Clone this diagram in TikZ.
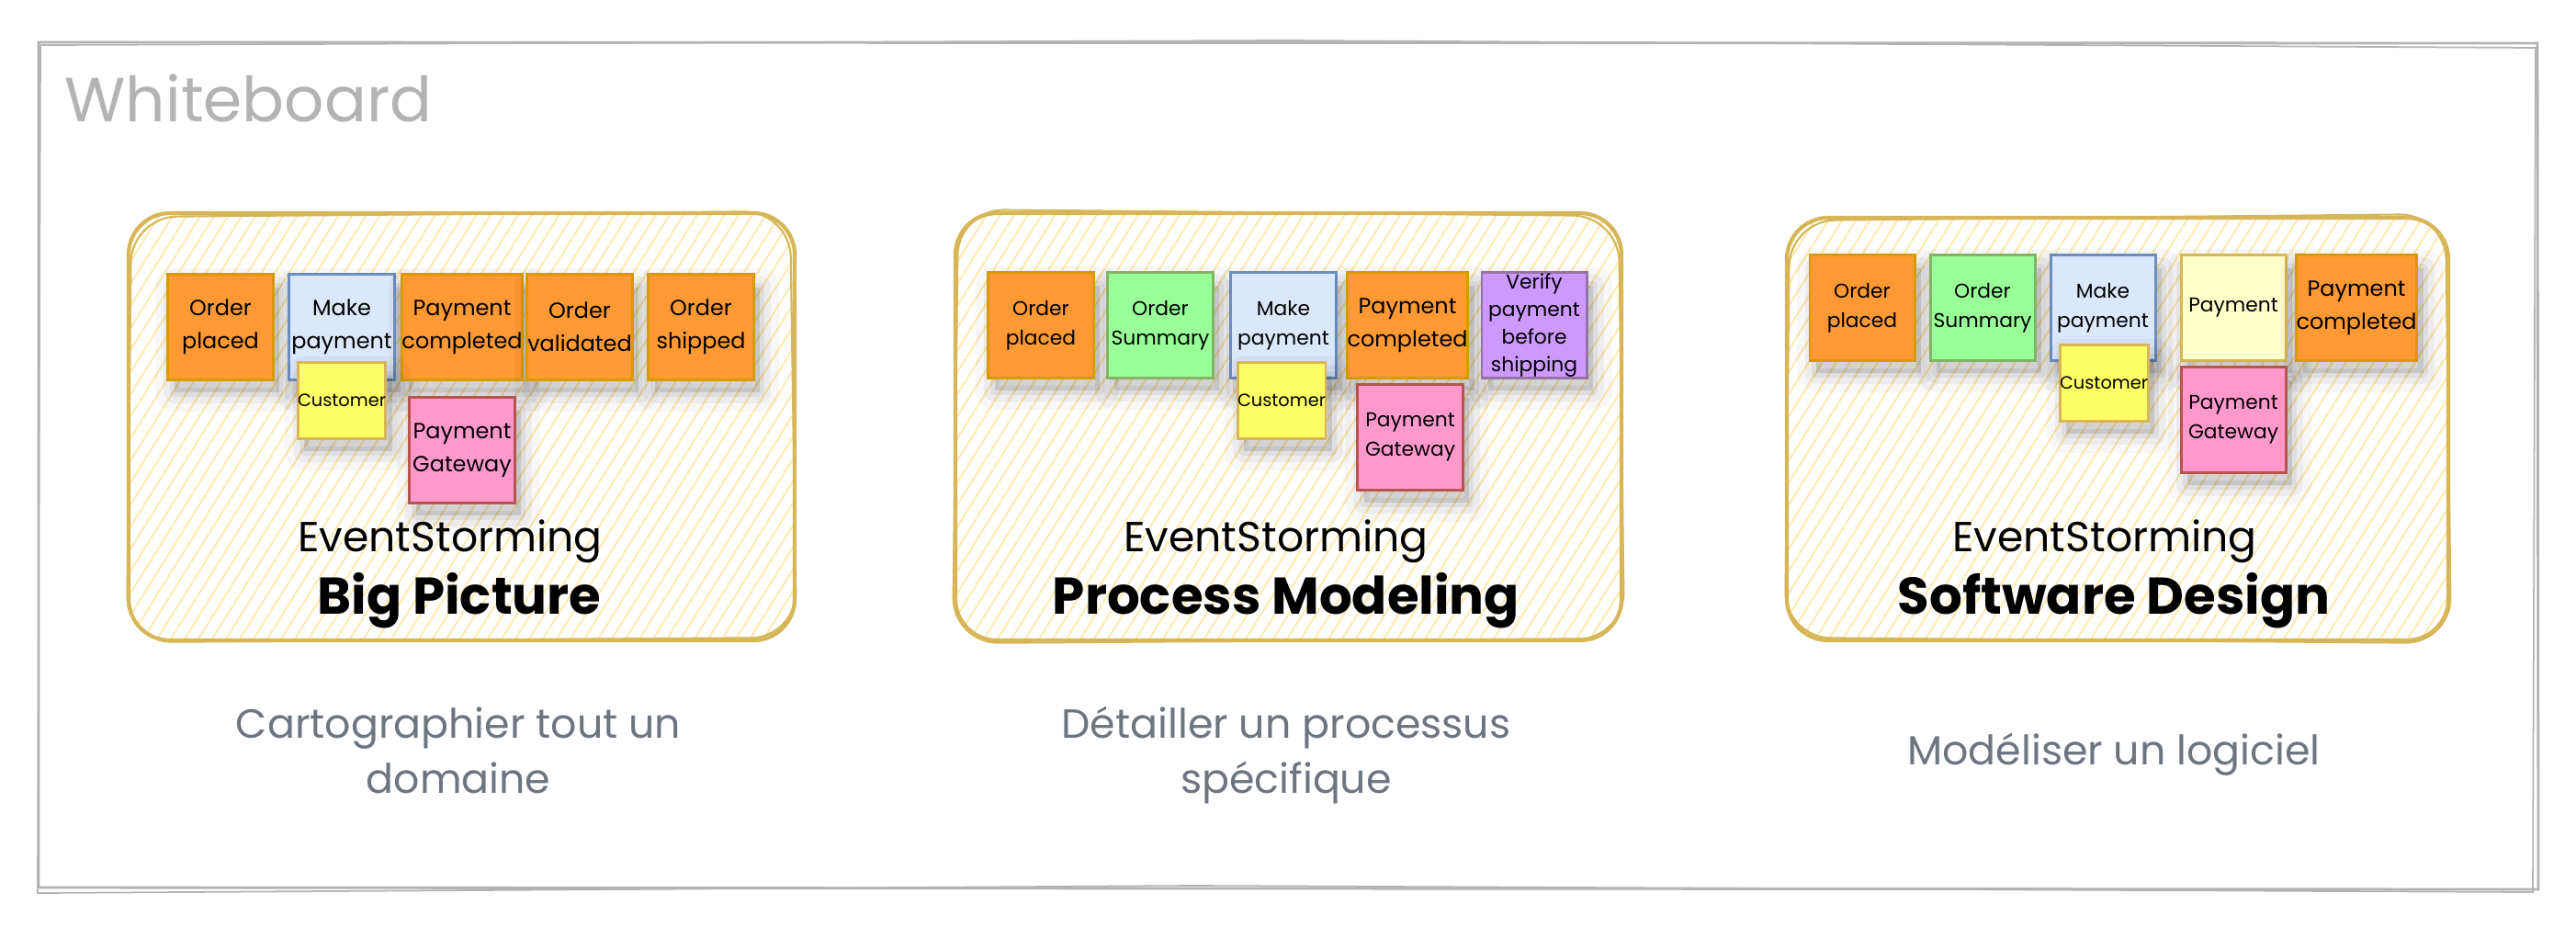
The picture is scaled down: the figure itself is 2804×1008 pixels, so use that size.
\documentclass[tikz,border=0pt]{standalone}
\usepackage{fontspec}
\setmainfont{Poppins}
\definecolor{evfill}{HTML}{FF9933}
\definecolor{evdraw}{HTML}{D79B00}
\definecolor{cmdfill}{HTML}{DAE8FC}
\definecolor{cmddraw}{HTML}{6C8EBF}
\definecolor{actfill}{HTML}{FFFF66}
\definecolor{actdraw}{HTML}{D6B656}
\definecolor{extfill}{HTML}{FF99CC}
\definecolor{extdraw}{HTML}{B85450}
\definecolor{rmfill}{HTML}{99FF99}
\definecolor{rmdraw}{HTML}{82B366}
\definecolor{polfill}{HTML}{CC99FF}
\definecolor{poldraw}{HTML}{9673A6}
\definecolor{aggfill}{HTML}{FFFFCC}
\definecolor{aggdraw}{HTML}{D6B656}
\definecolor{paneldraw}{HTML}{D6B656}
\definecolor{hatchc}{HTML}{FFEAB0}
\definecolor{wbgray}{HTML}{B3B3B3}
\definecolor{descgray}{HTML}{6D7580}
\tikzset{
  softshadow/.style={
    preaction={draw=black, draw opacity=0.03, line width=12pt, line join=round, transform canvas={shift={(2pt,-4pt)}}},
    preaction={draw=black, draw opacity=0.045, line width=7pt, line join=round, transform canvas={shift={(2pt,-4pt)}}},
    preaction={draw=black, fill=black, draw opacity=0.06, fill opacity=0.1, line width=3pt, line join=round, transform canvas={shift={(2pt,-4pt)}}}},
  sticky/.style={softshadow, draw, line width=0.85pt, minimum width=1.14cm, minimum height=1.14cm,
    inner sep=0pt, align=center, font=\fontsize{6.8}{10.2}\selectfont},
  smalltxt/.style={font=\fontsize{6.2}{9}\selectfont},
  ev/.style={sticky, fill=evfill, draw=evdraw},
  cmd/.style={sticky, fill=cmdfill, draw=cmddraw},
  act/.style={sticky, fill=actfill, draw=actdraw, minimum width=0.81cm, minimum height=0.82cm,
    font=\fontsize{5.5}{7}\selectfont},
  ext/.style={sticky, fill=extfill, draw=extdraw},
  rm/.style={sticky, fill=rmfill, draw=rmdraw},
  pol/.style={sticky, fill=polfill, draw=poldraw},
  agg/.style={sticky, fill=aggfill, draw=aggdraw},
  panelbox/.style={draw=paneldraw, line width=1.2pt, rounded corners=0.45cm},
  panelbox2/.style={draw=paneldraw, line width=0.6pt, rounded corners=0.5cm},
  hatch/.style={draw=hatchc, line width=0.55pt},
  wbline/.style={draw=wbgray, line width=0.8pt},
  estitle/.style={font=\fontsize{13}{15}\selectfont, inner sep=0pt, anchor=base},
  bigtitle/.style={font=\fontsize{16}{18}\selectfont\bfseries, inner sep=0pt, anchor=base},
  desc/.style={font=\fontsize{12.6}{17}\selectfont, text=descgray, inner sep=0pt, align=center, anchor=base},
}
\newcommand\myhatch[4]{%
  \begin{scope}
    \clip[rounded corners=0.45cm] (#1,#2) rectangle (#3,#4);
    \foreach \i in {-19,...,50} \draw[hatch] ({#1+\i*15},#4) -- ++(290,-465);
  \end{scope}}
\begin{document}
\begin{tikzpicture}[x=0.01cm,y=-0.01cm]
\useasboundingbox (0,0) rectangle (2804,1008);
\fill[white] (0,0) rectangle (2804,1008);
% whiteboard frame
\draw[wbline] (42,46) -- (2762,47) -- (2763,968) -- (42,966) -- cycle;
\draw[wbline, line width=0.5pt] (44,49) -- (1400,44) -- (2760,52) -- (2757,971) -- (1300,964) -- (41,972) -- cycle;
\node[anchor=base west, inner sep=0pt, text=wbgray, font=\fontsize{19.3}{24}\selectfont] (wb) at (70,132) {Whiteboard};

% panels
\myhatch{140}{232}{865}{697}
\myhatch{1040}{232}{1765}{697}
\myhatch{1945}{237}{2665}{697}
\draw[panelbox] (140,232) rectangle (865,697);
\draw[panelbox2] (143,236) -- (860,230) -- (867,694) -- (138,699) -- cycle;
\draw[panelbox] (1040,232) rectangle (1765,697);
\draw[panelbox2] (1043,228) -- (1762,235) -- (1768,695) -- (1037,700) -- cycle;
\draw[panelbox] (1945,237) rectangle (2665,697);
\draw[panelbox2] (1948,240) -- (2662,233) -- (2668,700) -- (1943,694) -- cycle;

% panel 1
\node[ev] (op1) at (240,356) {Order\\placed};
\node[cmd] (mp1) at (372,356) {Make\\payment};
\node[ev] (pc1) at (503,356) {Payment\\completed};
\node[ev] (ov1) at (631,356) {Order\\validated};
\node[ev] (os1) at (763,356) {Order\\shipped};
\node[act] (cu1) at (372,436) {Customer};
\node[ext] (pg1) at (503,490) {Payment\\Gateway};
\node[estitle] (es1) at (490,600) {EventStorming};
\node[bigtitle] (bp1) at (500,668) {Big Picture};

% panel 2
\node[ev, smalltxt] (op2) at (1133,354) {Order\\placed};
\node[rm, smalltxt] (su2) at (1263,354) {Order\\Summary};
\node[cmd, smalltxt] (mp2) at (1397,354) {Make\\payment};
\node[ev] (pc2) at (1532,354) {Payment\\completed};
\node[pol, font=\fontsize{6.2}{8.5}\selectfont] (vp2) at (1670,354) {Verify\\payment\\before\\shipping};
\node[act] (cu2) at (1395,436) {Customer};
\node[ext, smalltxt] (pg2) at (1535,476) {Payment\\Gateway};
\node[estitle] (es2) at (1389,600) {EventStorming};
\node[bigtitle] (pm2) at (1400,668) {Process Modeling};

% panel 3
\node[ev, smalltxt] (op3) at (2027,335) {Order\\placed};
\node[rm, smalltxt] (su3) at (2158,335) {Order\\Summary};
\node[cmd, smalltxt] (mp3) at (2289,335) {Make\\payment};
\node[agg, smalltxt] (pa3) at (2431,335) {Payment};
\node[ev] (pc3) at (2565,335) {Payment\\completed};
\node[act] (cu3) at (2290,417) {Customer};
\node[ext, smalltxt] (pg3) at (2431,457) {Payment\\Gateway};
\node[estitle] (es3) at (2291,600) {EventStorming};
\node[bigtitle] (sd3) at (2301,668) {Software Design};

% descriptions
\node[desc] (d1) at (499,863) {Cartographier tout un\\domaine};
\node[desc] (d2) at (1400,863) {Détailler un processus\\spécifique};
\node[desc] (d3) at (2301,832) {Modéliser un logiciel};
\end{tikzpicture}
\end{document}
